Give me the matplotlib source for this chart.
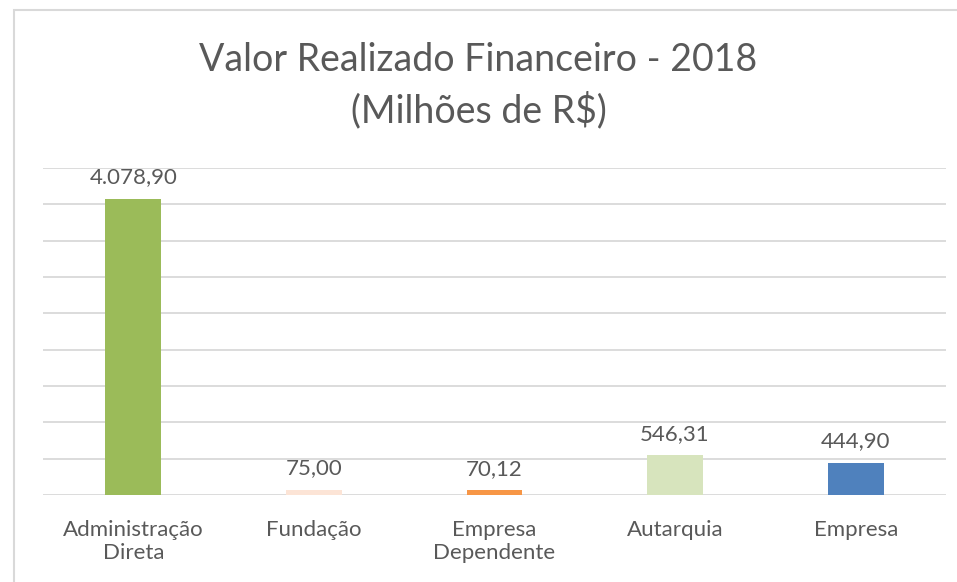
import matplotlib.pyplot as plt
from matplotlib.patches import Rectangle

categorias = ['Administração\nDireta', 'Fundação', 'Empresa\nDependente', 'Autarquia', 'Empresa']
valores = [4078.90, 75.00, 70.12, 546.31, 444.90]
rotulos = ['4.078,90', '75,00', '70,12', '546,31', '444,90']
cores = ['#9BBB59', '#FCE4D6', '#F79646', '#D7E4BD', '#4F81BD']

plt.rcParams['font.family'] = ['Lato', 'DejaVu Sans']
texto = '#595959'

fig = plt.figure(figsize=(9.57, 5.82), dpi=100)
ax = fig.add_axes([43 / 957, 1 - 495 / 582, (946 - 43) / 957, (495 - 168) / 582])

x = list(range(len(categorias)))
ax.bar(x, valores, width=0.31, color=cores, zorder=3)
for xi, v, r in zip(x, valores, rotulos):
    ax.annotate(r, (xi, v), xytext=(0, 8), textcoords='offset points',
                ha='center', va='bottom', fontsize=16, color=texto)

ax.set_xlim(-0.5, len(categorias) - 0.5)
ax.set_ylim(0, 4500)
ax.set_yticks(range(0, 4501, 500))
ax.set_yticklabels([])
ax.tick_params(axis='y', length=0)
ax.tick_params(axis='x', length=0, pad=18, labelsize=16, labelcolor=texto)
ax.set_xticks(x)
ax.set_xticklabels(categorias, linespacing=1.2)
ax.grid(axis='y', color='#D9D9D9', linewidth=1.3, zorder=0)
for s in ax.spines.values():
    s.set_visible(False)

fig.text(0.5, 1 - 60 / 582, 'Valor Realizado Financeiro - 2018', ha='center', va='center',
         fontsize=27, color=texto)
fig.text(0.5, 1 - 110 / 582, '(Milhões de R$)', ha='center', va='center',
         fontsize=27, color=texto)

fig.patches.append(Rectangle((14 / 957, -0.1), 1.0, 1 - 10 / 582 + 0.1, transform=fig.transFigure,
                             fill=False, edgecolor='#D9D9D9', linewidth=1.5))

fig.savefig('out.png', dpi=100)
